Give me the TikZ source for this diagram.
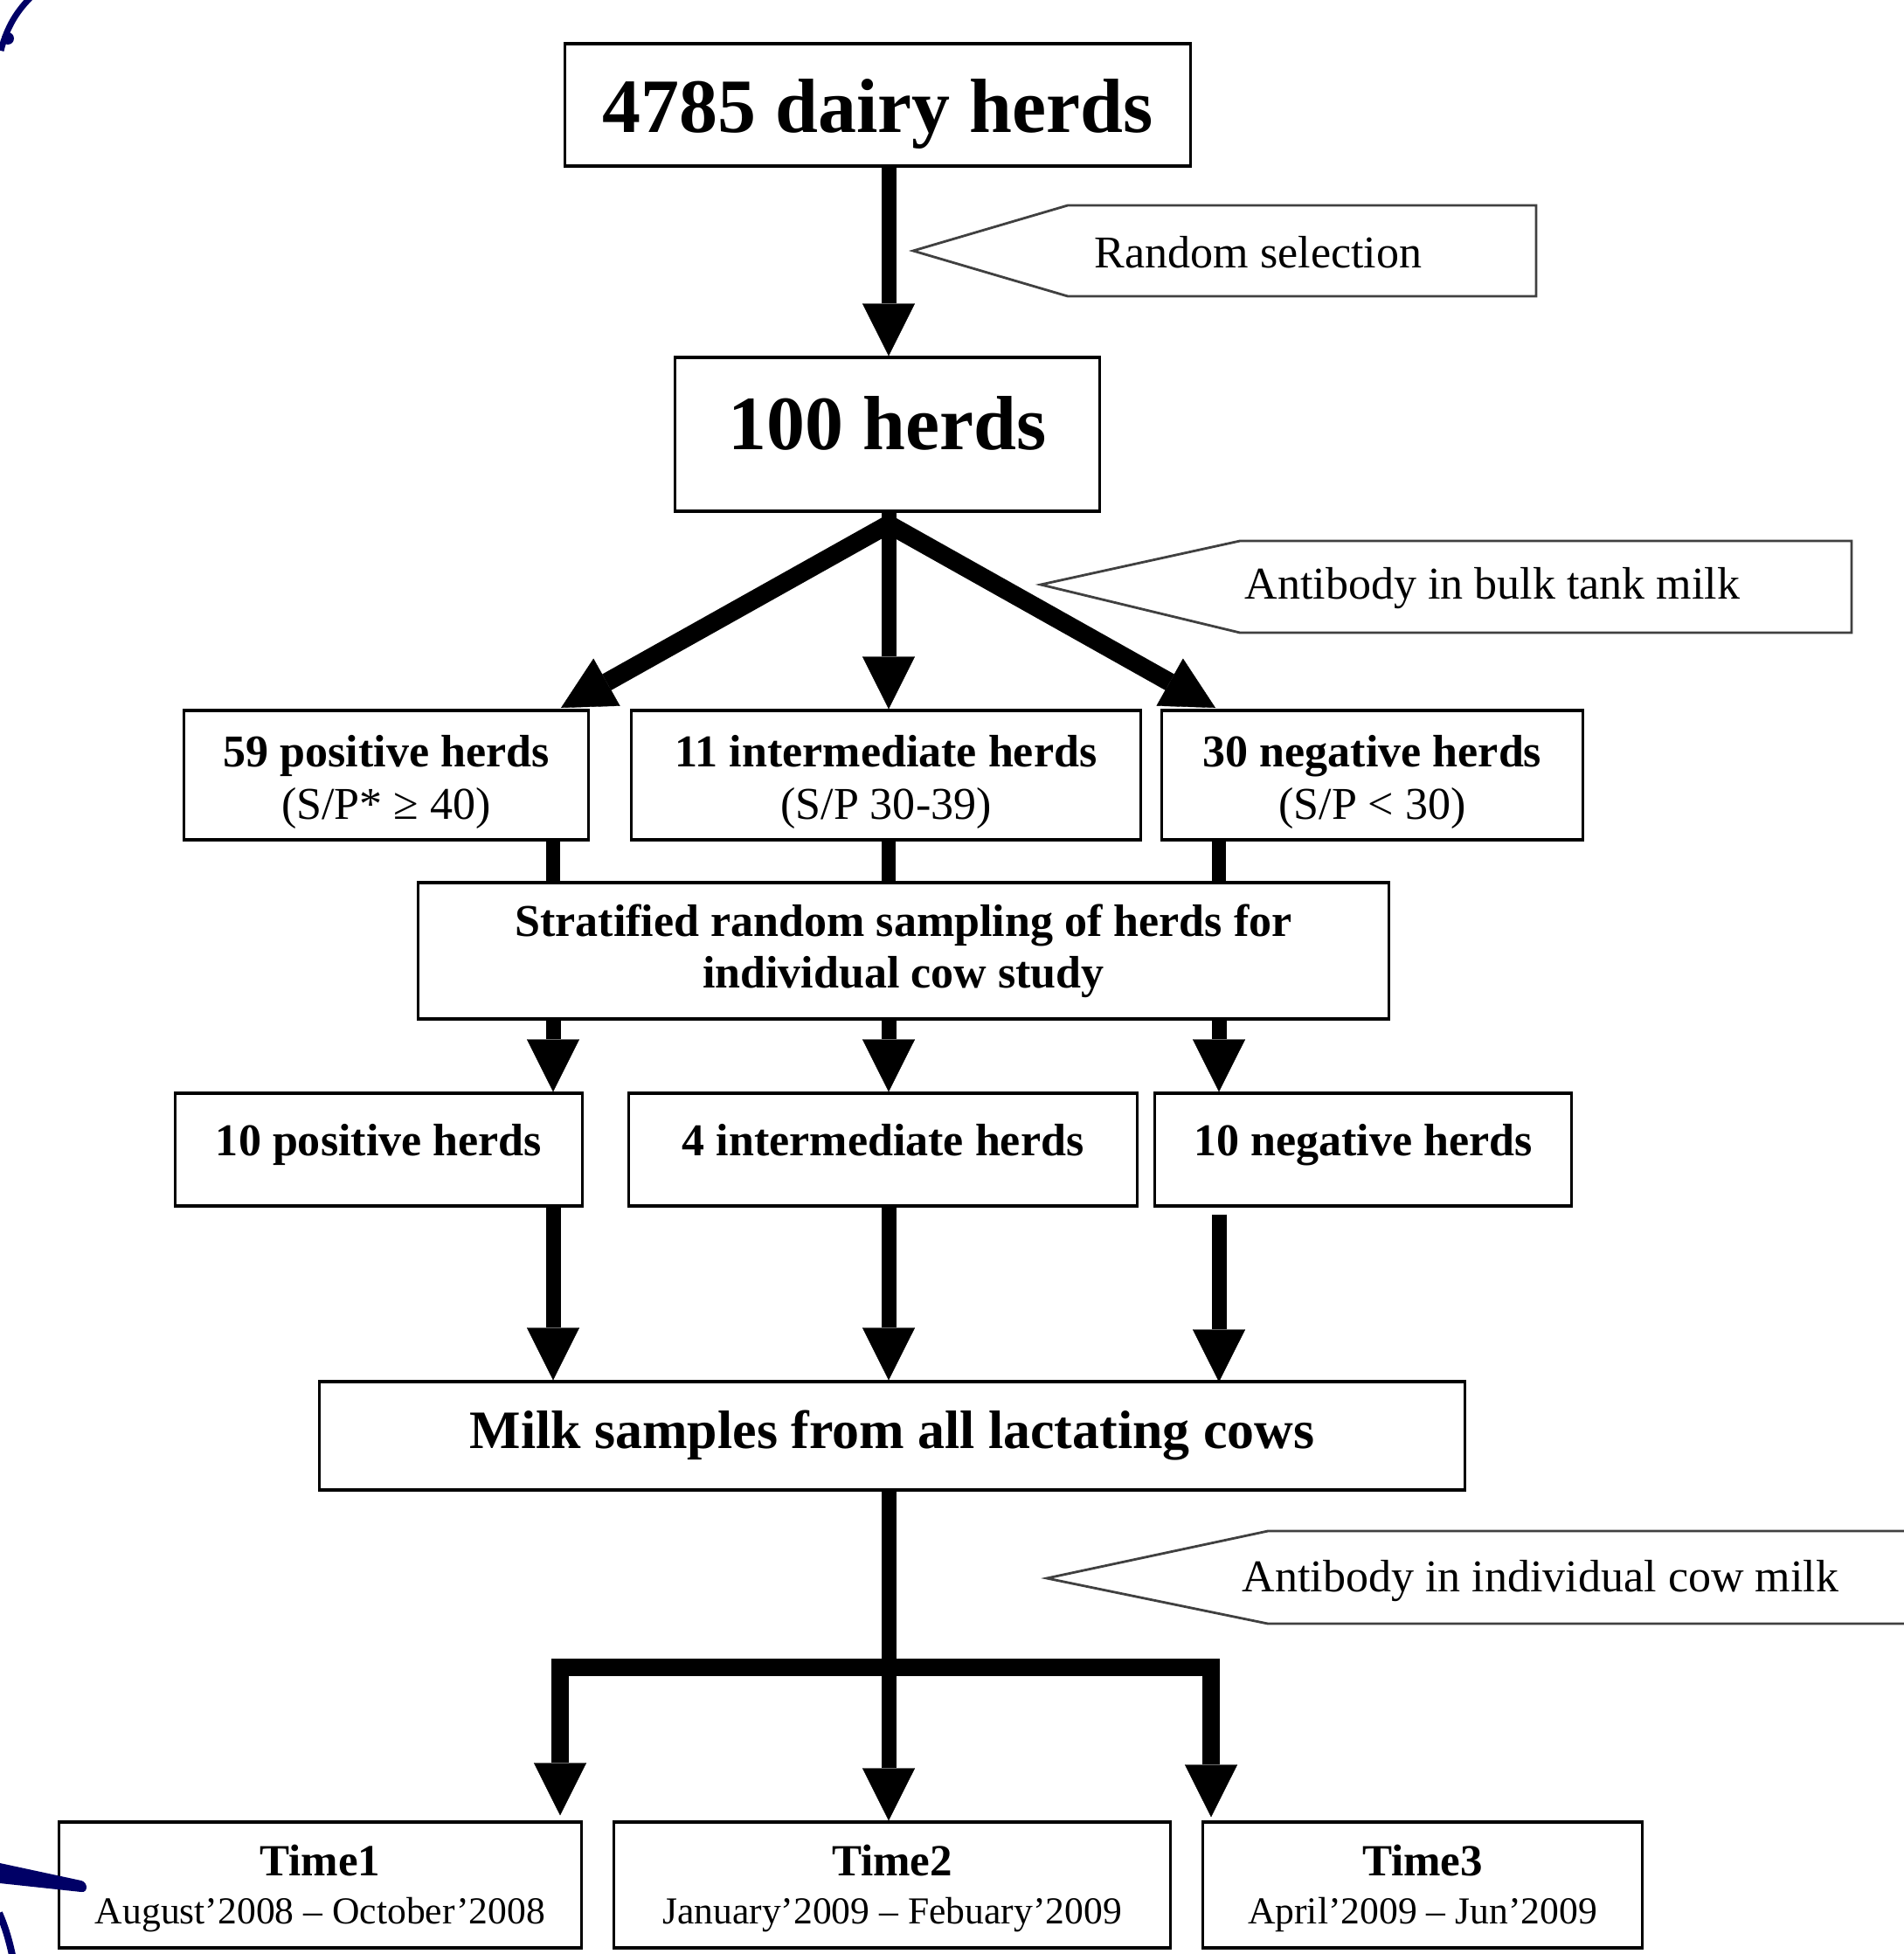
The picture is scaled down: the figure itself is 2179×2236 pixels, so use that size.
\documentclass[tikz,border=0pt]{standalone}
\usepackage{fontspec}
\setmainfont{Liberation Serif}
\usetikzlibrary{arrows.meta,calc}
\definecolor{inkblue}{RGB}{0,0,102}
\newcommand{\fBig}{\fontsize{25}{28}\selectfont\bfseries}
\newcommand{\fMilk}{\fontsize{17.6}{20}\selectfont\bfseries}
\newcommand{\fStd}{\fontsize{14.8}{16.8}\selectfont}
\newcommand{\fDate}{\fontsize{12.4}{15.4}\selectfont}
\begin{document}
\begin{tikzpicture}[x=0.01cm,y=-0.01cm,
  box/.style={draw, line width=0.9pt, inner sep=0pt, align=center},
  txt/.style={inner sep=0pt, align=center},
  rowtxt/.style={inner sep=0pt, font=\fStd\bfseries, text height=10pt, text depth=3pt},
  arr/.style={line width=0.17cm, -{Triangle[width=0.6cm,length=0.6cm,line width=0.1pt]}},
  diag/.style={line width=0.21cm, line join=miter,
     {Triangle[width=0.62cm,length=0.6cm,line width=0.1pt]}-{Triangle[width=0.62cm,length=0.6cm,line width=0.1pt]}},
  conn/.style={line width=0.16cm},
  bus/.style={line width=0.2cm, line join=miter, -{Triangle[width=0.6cm,length=0.6cm,line width=0.1pt]}},
  callout/.style={draw=black!75, line width=0.8pt, line join=miter},
  note/.style={font=\fStd, inner sep=0pt}
]
\useasboundingbox (0,0) rectangle (2179,2236);

% column coordinates
\coordinate (cL) at (633,0);
\coordinate (cM) at (1017,0);
\coordinate (cR) at (1395,0);

% boxes
\node[box, minimum width=7.15cm, minimum height=1.40cm] (A) at (1004.5,120) {};
\node[txt, font=\fBig] (At) at (1004.5,130) {4785 dairy herds};
\node[box, minimum width=4.85cm, minimum height=1.76cm] (B) at (1015.5,497) {};
\node[txt, font=\fBig] (Bt) at (1015.5,484) {100 herds};

\node[box, minimum width=4.62cm, minimum height=1.48cm] (P1) at (442,887) {};
\node[txt, font=\fStd] (P1t) at (442,895) {\textbf{59 positive herds}\\(S/P* ≥ 40)};
\node[box, minimum width=5.82cm, minimum height=1.48cm] (I1) at (1014,887) {};
\node[txt, font=\fStd] (I1t) at (1014,895) {\textbf{11 intermediate herds}\\(S/P 30-39)};
\node[box, minimum width=4.81cm, minimum height=1.48cm] (N1) at (1570.5,887) {};
\node[txt, font=\fStd] (N1t) at (1570.5,895) {\textbf{30 negative herds}\\(S/P < 30)};

\node[box, font=\fStd\bfseries, minimum width=11.10cm, minimum height=1.56cm] (S) at (1034,1088)
  {Stratified random sampling of herds for\\individual cow study};

\node[box, minimum width=4.65cm, minimum height=1.29cm] (P2) at (433.5,1315.5) {};
\node[rowtxt] (P2t) at (433.5,1310) {10 positive herds};
\node[box, minimum width=5.81cm, minimum height=1.29cm] (I2) at (1010.5,1315.5) {};
\node[rowtxt] (I2t) at (1010.5,1310) {4 intermediate herds};
\node[box, minimum width=4.76cm, minimum height=1.29cm] (N2) at (1560,1315.5) {};
\node[rowtxt] (N2t) at (1560,1310) {10 negative herds};

\node[box, minimum width=13.10cm, minimum height=1.24cm] (M) at (1021,1643)
  {\fMilk Milk samples from all lactating cows};

\node[box, minimum width=5.97cm, minimum height=1.44cm] (T1) at (366.5,2157) {};
\node[txt, font=\fDate] (T1t) at (366.5,2161)
  {{\bfseries\fontsize{14.5}{15.4}\selectfont Time1}\\August’2008 – October’2008};
\node[box, minimum width=6.36cm, minimum height=1.44cm] (T2) at (1021,2157) {};
\node[txt, font=\fDate] (T2t) at (1021,2161)
  {{\bfseries\fontsize{14.5}{15.4}\selectfont Time2}\\January’2009 – Febuary’2009};
\node[box, minimum width=5.02cm, minimum height=1.44cm] (T3) at (1628,2157) {};
\node[txt, font=\fDate] (T3t) at (1628,2161)
  {{\bfseries\fontsize{14.5}{15.4}\selectfont Time3}\\April’2009 – Jun’2009};

% callouts
\draw[callout] (1045,287) -- (1222,235) -- (1758,235) -- (1758,339) -- (1222,339) -- cycle;
\node[note] (c1) at (1440,289) {Random selection};
\draw[callout] (1191,669) -- (1419,619) -- (2119,619) -- (2119,724) -- (1419,724) -- cycle;
\node[note] (c2) at (1708,673) {Antibody in bulk tank milk};
\draw[callout] (2185,1752) -- (1451,1752) -- (1198,1806) -- (1451,1858) -- (2185,1858);
\node[note] (c3) at (1763,1809) {Antibody in individual cow milk};

% connectors
\draw[arr] (A.south -| cM) -- (B.north -| cM);

\coordinate (apex) at (1017,600);
\coordinate (dL) at (642,810);
\coordinate (dR) at (1391,810);
\draw[diag] (dL) -- (apex) -- (dR);
\draw[arr] (B.south -| cM) -- (I1.north -| cM);

\draw[conn] (P1.south -| cL) -- (S.north -| cL);
\draw[conn] (I1.south -| cM) -- (S.north -| cM);
\draw[conn] (N1.south -| cR) -- (S.north -| cR);

\draw[arr] (S.south -| cL) -- (P2.north -| cL);
\draw[arr] (S.south -| cM) -- (I2.north -| cM);
\draw[arr] (S.south -| cR) -- (N2.north -| cR);

\draw[arr] (P2.south -| cL) -- (M.north -| cL);
\draw[arr] (I2.south -| cM) -- (M.north -| cM);
\draw[arr] ($(N2.south -| cR)+(0,8)$) -- ($(M.north -| cR)+(0,2)$);

\draw[arr] (M.south -| cM) -- (T2.north -| cM);
\coordinate (bM) at (1017,1908);
\coordinate (bL) at (641,1908);
\coordinate (bR) at (1386,1908);
\draw[bus] (bM) -| ($(T1.north -| bL)+(0,-6)$);
\draw[bus] (bM) -| ($(T3.north -| bR)+(0,-4)$);

% blue pen marks
\draw[inkblue, line width=0.07cm] (36,-4) .. controls (20,12) and (8,30) .. (1,58);
\fill[inkblue] (9,44) circle (7);
\fill[inkblue] (0,2132) -- (93,2152) .. controls (101,2154) and (101,2166) .. (93,2165) -- (0,2155) -- cycle;
\draw[inkblue, line width=0.08cm] (-1,2189) .. controls (6,2205) and (11,2222) .. (15,2242);
\end{tikzpicture}
\end{document}
